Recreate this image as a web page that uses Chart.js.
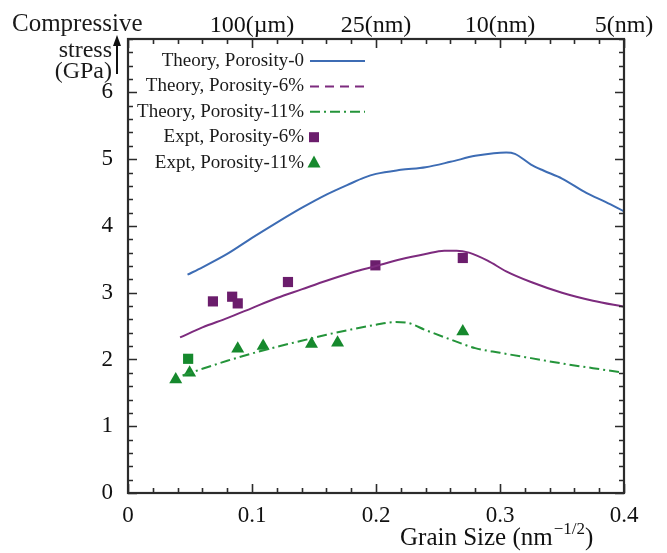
<!DOCTYPE html>
<html>
<head>
<meta charset="utf-8">
<script src="https://cdn.jsdelivr.net/npm/chart.js@4"></script>
<style>
    html, body { margin: 0; padding: 0; background: #fff; }
    #wrap { width: 667px; height: 553px; }
</style>
</head>
<body>
<div id="wrap"><canvas id="stressChart" width="667" height="553"></canvas></div>
<script>
// Tick labels
const xTickLabels = ['0', '0.1', '0.2', '0.3', '0.4'];
const topTickLabels = ['', '100(µm)', '25(nm)', '10(nm)', '5(nm)'];
const yTickLabels = ['0', '1', '2', '3', '4', '5', '6'];

// Theory curves (grain size nm^-1/2 vs GPa)
const theory0X = [0.048, 0.06, 0.08, 0.10, 0.12, 0.14, 0.16, 0.18, 0.19, 0.20, 0.22, 0.24, 0.26, 0.28, 0.295, 0.305, 0.312, 0.325, 0.335, 0.35, 0.37, 0.385, 0.40];
const theory0Y = [3.27, 3.38, 3.58, 3.82, 4.05, 4.27, 4.47, 4.64, 4.72, 4.78, 4.84, 4.88, 4.96, 5.05, 5.09, 5.10, 5.08, 4.92, 4.83, 4.71, 4.49, 4.36, 4.22];

const theory6X = [0.042, 0.06, 0.08, 0.10, 0.12, 0.14, 0.16, 0.18, 0.20, 0.22, 0.24, 0.255, 0.265, 0.275, 0.29, 0.305, 0.325, 0.35, 0.375, 0.40];
const theory6Y = [2.33, 2.48, 2.62, 2.77, 2.92, 3.05, 3.18, 3.30, 3.40, 3.50, 3.58, 3.63, 3.63, 3.60, 3.48, 3.32, 3.16, 3.00, 2.88, 2.79];

const theory11X = [0.044, 0.06, 0.08, 0.10, 0.12, 0.14, 0.16, 0.18, 0.20, 0.215, 0.225, 0.24, 0.26, 0.28, 0.30, 0.325, 0.35, 0.375, 0.40];
const theory11Y = [1.76, 1.86, 1.98, 2.09, 2.19, 2.28, 2.37, 2.45, 2.52, 2.56, 2.55, 2.44, 2.30, 2.17, 2.10, 2.02, 1.94, 1.87, 1.80];

// Experimental points
const expt6X = [0.0685, 0.084, 0.0885, 0.129, 0.1995, 0.270];
const expt6Y = [2.87, 2.94, 2.84, 3.16, 3.41, 3.52];

const expt11X = [0.0385, 0.0497, 0.0885, 0.109, 0.148, 0.169, 0.270];
const expt11Y = [1.70, 1.80, 2.16, 2.20, 2.23, 2.25, 2.42];

const expt11SquareX = [0.0485];
const expt11SquareY = [2.01];

const legendLabels = ['Theory, Porosity-0', 'Theory, Porosity-6%', 'Theory, Porosity-11%', 'Expt, Porosity-6%', 'Expt, Porosity-11%'];

const BLUE = '#3d6cb4';
const PURPLE = '#7d2b7e';
const GREEN = '#24943a';
const SQUARE = '#6b1d6c';
const TRI = '#16892d';
const SERIF = '"Liberation Serif", "DejaVu Serif", serif';

const toPoints = (xs, ys) => xs.map((x, i) => ({ x: x, y: ys[i] }));

// Frame, inward ticks, legend and free texts
const framePlugin = {
    id: 'frame',
    afterDraw(chart) {
        const ctx = chart.ctx;
        const a = chart.chartArea;
        const xs = chart.scales.x;
        const ys = chart.scales.y;

        ctx.save();
        ctx.strokeStyle = '#2b2b2b';
        ctx.lineWidth = 1.6;

        // ticks on x (bottom + top)
        for (let i = 0; i <= 20; i++) {
            const px = Math.round(xs.getPixelForValue(i * 0.02)) + 0.5;
            const len = i % 5 === 0 ? 9 : 5;
            ctx.beginPath();
            ctx.moveTo(px, a.bottom); ctx.lineTo(px, a.bottom - len);
            ctx.moveTo(px, a.top); ctx.lineTo(px, a.top + len);
            ctx.stroke();
        }
        // ticks on y (left + right)
        for (let i = 0; i <= 34; i++) {
            const py = Math.round(ys.getPixelForValue(i * 0.2)) + 0.5;
            const len = i % 5 === 0 ? 9 : 5;
            ctx.beginPath();
            ctx.moveTo(a.left, py); ctx.lineTo(a.left + len, py);
            ctx.moveTo(a.right, py); ctx.lineTo(a.right - len, py);
            ctx.stroke();
        }
        ctx.lineWidth = 2.2;
        ctx.strokeRect(a.left, a.top, a.right - a.left, a.bottom - a.top);

        // Legend (text right aligned, sample on the right)
        ctx.font = '19px ' + SERIF;
        ctx.fillStyle = '#1a1a1a';
        ctx.textAlign = 'right';
        ctx.textBaseline = 'middle';
        const samples = [
            { color: BLUE, dash: [] },
            { color: PURPLE, dash: [9, 6] },
            { color: GREEN, dash: [10, 4, 2, 4] },
            { marker: 'rect', color: SQUARE },
            { marker: 'triangle', color: TRI }
        ];
        legendLabels.forEach((label, i) => {
            const y = 61 + i * 25.4;
            ctx.fillText(label, 304, y);
            const s = samples[i];
            if (s.marker === 'rect') {
                ctx.fillStyle = s.color;
                ctx.fillRect(309, y - 5, 10, 10);
                ctx.fillStyle = '#1a1a1a';
            } else if (s.marker === 'triangle') {
                ctx.fillStyle = s.color;
                ctx.beginPath();
                ctx.moveTo(314, y - 7);
                ctx.lineTo(320.5, y + 5);
                ctx.lineTo(307.5, y + 5);
                ctx.closePath();
                ctx.fill();
                ctx.fillStyle = '#1a1a1a';
            } else {
                ctx.save();
                ctx.strokeStyle = s.color;
                ctx.lineWidth = 2;
                ctx.setLineDash(s.dash);
                ctx.beginPath();
                ctx.moveTo(310, y); ctx.lineTo(365, y);
                ctx.stroke();
                ctx.restore();
            }
        });

        // Y axis title with arrow
        ctx.font = '25px ' + SERIF;
        ctx.textBaseline = 'alphabetic';
        ctx.textAlign = 'left';
        ctx.fillText('Compressive', 12, 31);
        ctx.font = '24px ' + SERIF;
        ctx.textAlign = 'right';
        ctx.fillText('stress', 112, 57);
        ctx.fillText('(GPa)', 112, 78);
        ctx.strokeStyle = '#111';
        ctx.lineWidth = 2;
        ctx.beginPath();
        ctx.moveTo(117, 74); ctx.lineTo(117, 44);
        ctx.stroke();
        ctx.fillStyle = '#111';
        ctx.beginPath();
        ctx.moveTo(117, 35); ctx.lineTo(121, 46); ctx.lineTo(113, 46);
        ctx.closePath();
        ctx.fill();

        // X axis title with superscript
        ctx.textAlign = 'left';
        ctx.font = '25px ' + SERIF;
        let x = 400;
        const main = 'Grain Size (nm';
        ctx.fillText(main, x, 545);
        x += ctx.measureText(main).width;
        ctx.font = '17px ' + SERIF;
        const sup = '\u22121/2';
        ctx.fillText(sup, x + 1, 534);
        x += ctx.measureText(sup).width + 1;
        ctx.font = '25px ' + SERIF;
        ctx.fillText(')', x, 545);

        ctx.restore();
    }
};

const lineSet = (label, xs, ys, color, dash) => ({
    label: label,
    data: toPoints(xs, ys),
    showLine: true,
    borderColor: color,
    borderWidth: 2,
    borderDash: dash,
    pointRadius: 0,
    cubicInterpolationMode: 'monotone',
    fill: false
});

const ctx = document.getElementById('stressChart');
new Chart(ctx, {
    type: 'scatter',
    data: {
        datasets: [
            lineSet(legendLabels[0], theory0X, theory0Y, BLUE, []),
            lineSet(legendLabels[1], theory6X, theory6Y, PURPLE, []),
            lineSet(legendLabels[2], theory11X, theory11Y, GREEN, [10, 4, 2, 4]),
            {
                label: legendLabels[3],
                data: toPoints(expt6X, expt6Y),
                pointStyle: 'rect',
                pointRadius: 7.2,
                backgroundColor: SQUARE,
                borderColor: SQUARE,
                borderWidth: 0
            },
            {
                label: legendLabels[4],
                data: toPoints(expt11X, expt11Y),
                pointStyle: 'triangle',
                pointRadius: 7.5,
                backgroundColor: TRI,
                borderColor: TRI,
                borderWidth: 0
            },
            {
                label: legendLabels[4],
                data: toPoints(expt11SquareX, expt11SquareY),
                pointStyle: 'rect',
                pointRadius: 7.2,
                backgroundColor: TRI,
                borderColor: TRI,
                borderWidth: 0
            }
        ]
    },
    options: {
        responsive: false,
        animation: false,
        layout: { padding: { left: 0, right: 43, top: 0, bottom: 0 } },
        plugins: {
            legend: { display: false },
            tooltip: { enabled: false }
        },
        scales: {
            x: {
                type: 'linear',
                position: 'bottom',
                min: 0,
                max: 0.4,
                afterFit: s => { s.height = 60; },
                afterBuildTicks: s => { s.ticks = xTickLabels.map(t => ({ value: parseFloat(t) })); },
                grid: { display: false },
                border: { display: false },
                ticks: {
                    padding: 1,
                    color: '#111',
                    font: { family: SERIF, size: 23 },
                    maxRotation: 0,
                    callback: (v, i) => xTickLabels[i]
                }
            },
            x2: {
                type: 'linear',
                position: 'top',
                min: 0,
                max: 0.4,
                afterFit: s => { s.height = 39; },
                afterBuildTicks: s => { s.ticks = xTickLabels.map(t => ({ value: parseFloat(t) })); },
                grid: { display: false },
                border: { display: false },
                ticks: {
                    padding: -9,
                    color: '#111',
                    font: { family: SERIF, size: 24 },
                    maxRotation: 0,
                    callback: (v, i) => topTickLabels[i]
                }
            },
            y: {
                type: 'linear',
                min: 0,
                max: 6.8,
                afterFit: s => { s.width = 128; },
                afterBuildTicks: s => { s.ticks = yTickLabels.map(t => ({ value: parseFloat(t) })); },
                grid: { display: false },
                border: { display: false },
                ticks: {
                    padding: 7,
                    color: '#111',
                    font: { family: SERIF, size: 23 },
                    callback: (v, i) => yTickLabels[i]
                }
            }
        }
    },
    plugins: [framePlugin]
});
</script>
</body>
</html>
